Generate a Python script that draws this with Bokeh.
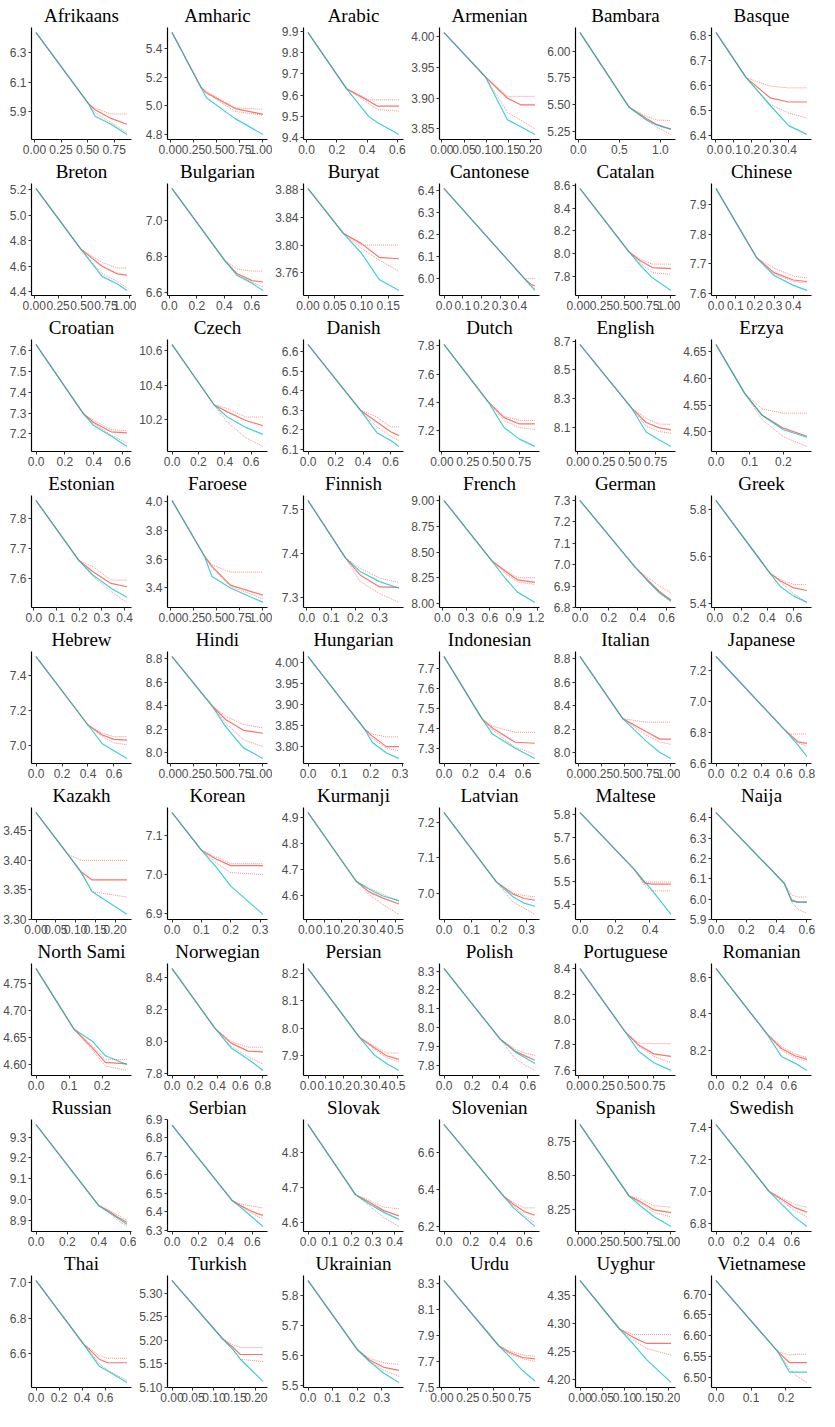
from bokeh.plotting import figure
from bokeh.layouts import gridplot
from bokeh.models import Range1d, FixedTicker, CustomJSTickFormatter
from bokeh.embed import file_html
from bokeh.resources import INLINE

languages = ["Afrikaans", "Amharic", "Arabic", "Armenian", "Bambara", "Basque",
             "Breton", "Bulgarian", "Buryat", "Cantonese", "Catalan", "Chinese",
             "Croatian", "Czech", "Danish", "Dutch", "English", "Erzya",
             "Estonian", "Faroese", "Finnish", "French", "German", "Greek",
             "Hebrew", "Hindi", "Hungarian", "Indonesian", "Italian", "Japanese",
             "Kazakh", "Korean", "Kurmanji", "Latvian", "Maltese", "Naija",
             "North Sami", "Norwegian", "Persian", "Polish", "Portuguese", "Romanian",
             "Russian", "Serbian", "Slovak", "Slovenian", "Spanish", "Swedish",
             "Thai", "Turkish", "Ukrainian", "Urdu", "Uyghur", "Vietnamese"]

x_points = [
    [0.015, 0.51, 0.57, 0.72, 0.87], [0.02, 0.33, 0.39, 0.70, 1.0], [0.01, 0.265, 0.41, 0.47, 0.61],
    [0.005, 0.098, 0.148, 0.179, 0.21], [0.02, 0.62, 0.83, 0.95, 1.13], [0.005, 0.17, 0.30, 0.40, 0.50],
    [0.02, 0.49, 0.71, 0.87, 0.97], [0.02, 0.40, 0.49, 0.60, 0.68], [0.0, 0.066, 0.10, 0.133, 0.17],
    [0.0, 0.43, 0.45, 0.47, 0.486], [0.02, 0.55, 0.67, 0.80, 1.0], [0.0, 0.21, 0.30, 0.40, 0.47],
    [0.0, 0.33, 0.40, 0.52, 0.63], [0.0, 0.32, 0.42, 0.56, 0.69], [0.0, 0.38, 0.50, 0.60, 0.66],
    [0.02, 0.45, 0.60, 0.75, 0.90], [0.02, 0.52, 0.66, 0.78, 0.90], [0.0, 0.085, 0.137, 0.20, 0.27],
    [0.01, 0.20, 0.26, 0.34, 0.41], [0.02, 0.37, 0.45, 0.65, 1.0], [0.005, 0.16, 0.22, 0.30, 0.38],
    [0.02, 0.63, 0.80, 0.95, 1.17], [0.0, 0.38, 0.46, 0.55, 0.63], [0.01, 0.42, 0.50, 0.60, 0.70],
    [0.0, 0.40, 0.51, 0.60, 0.70], [0.02, 0.45, 0.60, 0.79, 1.0], [0.0, 0.18, 0.205, 0.25, 0.29],
    [0.0, 0.29, 0.37, 0.54, 0.69], [0.02, 0.48, 0.73, 0.88, 1.0], [0.0, 0.60, 0.66, 0.72, 0.80],
    [0.0, 0.081, 0.115, 0.142, 0.23], [0.0, 0.10, 0.15, 0.20, 0.31], [0.01, 0.28, 0.35, 0.43, 0.52],
    [0.0, 0.19, 0.25, 0.29, 0.33], [0.0, 0.31, 0.37, 0.41, 0.52], [0.0, 0.45, 0.50, 0.54, 0.60],
    [0.0, 0.115, 0.17, 0.21, 0.275], [0.0, 0.38, 0.52, 0.67, 0.80], [0.0, 0.29, 0.37, 0.44, 0.51],
    [0.0, 0.40, 0.51, 0.58, 0.65], [0.02, 0.47, 0.60, 0.75, 0.92], [0.0, 0.42, 0.54, 0.65, 0.75],
    [0.0, 0.40, 0.46, 0.52, 0.58], [0.0, 0.45, 0.52, 0.60, 0.68], [0.0, 0.22, 0.28, 0.35, 0.42],
    [0.0, 0.45, 0.52, 0.60, 0.68], [0.02, 0.55, 0.67, 0.82, 1.0], [0.0, 0.42, 0.52, 0.62, 0.72],
    [0.0, 0.41, 0.55, 0.62, 0.79], [0.0, 0.12, 0.146, 0.163, 0.217], [0.0, 0.20, 0.25, 0.31, 0.37],
    [0.02, 0.55, 0.65, 0.78, 0.90], [0.0, 0.089, 0.12, 0.15, 0.205], [0.0, 0.176, 0.21, 0.23, 0.26],
]

y_start = [6.44, 5.51, 9.895, 4.007, 6.176, 6.81,
           5.21, 7.18, 3.882, 6.407, 8.57, 7.953,
           7.628, 10.635, 6.635, 7.81, 8.676, 4.663,
           7.858, 4.005, 7.52, 9.0, 7.30, 5.84,
           7.508, 8.82, 4.014, 7.76, 8.82, 7.29,
           3.481, 7.16, 4.92, 7.228, 5.81, 6.425,
           4.778, 8.454, 8.216, 8.313, 8.40, 8.647,
           9.36, 6.87, 4.88, 6.75, 8.87, 7.42,
           7.01, 5.327, 5.85, 8.32, 4.377, 6.733]

y_break = [5.95, 5.13, 9.63, 3.935, 5.474, 6.63,
           4.733, 6.78, 3.817, 6.0, 8.015, 7.72,
           7.295, 10.285, 6.30, 7.40, 8.235, 4.572,
           7.658, 3.62, 7.39, 8.41, 6.99, 5.528,
           7.117, 8.40, 3.842, 7.446, 8.29, 6.82,
           3.41, 7.063, 4.655, 7.032, 5.556, 6.078,
           4.666, 8.08, 7.966, 7.94, 7.90, 8.29,
           8.97, 6.46, 4.68, 6.36, 8.35, 7.0,
           6.657, 5.204, 5.62, 7.82, 4.29, 6.562]

baseline = [
    [5.865, 5.81, 5.74], [5.055, 4.91, 4.80], [9.50, 9.47, 9.415], [3.865, 3.853, 3.841],
    [5.355, 5.31, 5.266], [6.52, 6.44, 6.405], [4.52, 4.46, 4.41], [6.695, 6.65, 6.61],
    [3.788, 3.75, 3.734], [5.981, 5.962, 5.947], [7.90, 7.79, 7.68], [7.66, 7.627, 7.61],
    [7.24, 7.19, 7.14], [10.215, 10.155, 10.115], [6.185, 6.145, 6.115], [7.22, 7.137, 7.085],
    [8.07, 8.018, 7.97], [4.531, 4.504, 4.49], [7.611, 7.567, 7.537], [3.48, 3.40, 3.30],
    [7.36, 7.337, 7.322], [8.24, 8.11, 8.01], [6.93, 6.87, 6.83], [5.47, 5.43, 5.403],
    [7.01, 6.97, 6.926], [8.22, 8.04, 7.95], [3.81, 3.785, 3.772], [7.37, 7.30, 7.249],
    [8.10, 8.0, 7.95], [6.77, 6.72, 6.645], [3.379, 3.347, 3.309], [7.02, 6.97, 6.897],
    [4.625, 4.598, 4.58], [6.99, 6.972, 6.963], [5.50, 5.465, 5.355], [5.99, 5.985, 5.985],
    [4.644, 4.617, 4.601], [7.96, 7.89, 7.82], [7.904, 7.872, 7.847], [7.87, 7.84, 7.81],
    [7.75, 7.66, 7.60], [8.166, 8.13, 8.09], [8.94, 8.91, 8.88], [6.42, 6.37, 6.32],
    [4.655, 4.63, 4.61], [6.30, 6.25, 6.20], [8.28, 8.20, 8.13], [6.92, 6.84, 6.78],
    [6.53, 6.505, 6.44], [5.18, 5.16, 5.113], [5.58, 5.54, 5.51], [7.74, 7.63, 7.55],
    [4.263, 4.235, 4.194], [6.512, 6.512, 6.512],
]

estimate = [
    [5.91, 5.85, 5.81], [5.09, 4.98, 4.94], [9.573, 9.548, 9.548], [3.90, 3.889, 3.889],
    [5.37, 5.315, 5.27], [6.55, 6.534, 6.534], [4.60, 4.54, 4.53], [6.705, 6.665, 6.657],
    [3.802, 3.782, 3.78], [5.985, 5.972, 5.967], [7.94, 7.88, 7.87], [7.67, 7.645, 7.64],
    [7.255, 7.21, 7.205], [10.245, 10.195, 10.165], [6.24, 6.19, 6.17], [7.29, 7.245, 7.245],
    [8.136, 8.10, 8.085], [4.531, 4.507, 4.492], [7.622, 7.583, 7.572], [3.55, 3.42, 3.35],
    [7.352, 7.325, 7.324], [8.31, 8.23, 8.205], [6.935, 6.875, 6.835], [5.495, 5.465, 5.454],
    [7.06, 7.035, 7.03], [8.28, 8.19, 8.165], [3.825, 3.80, 3.80], [7.40, 7.33, 7.325],
    [8.18, 8.115, 8.115], [6.78, 6.74, 6.73], [3.38, 3.367, 3.367], [7.04, 7.023, 7.023],
    [4.615, 4.59, 4.567], [6.998, 6.985, 6.98], [5.495, 5.49, 5.49], [5.995, 5.985, 5.985],
    [4.632, 4.605, 4.602], [7.99, 7.94, 7.935], [7.93, 7.90, 7.887], [7.875, 7.85, 7.827],
    [7.80, 7.73, 7.71], [8.21, 8.17, 8.15], [8.945, 8.915, 8.89], [6.43, 6.40, 6.38],
    [4.66, 4.635, 4.62], [6.32, 6.28, 6.26], [8.31, 8.25, 8.23], [6.95, 6.90, 6.87],
    [6.57, 6.55, 6.55], [5.185, 5.17, 5.17], [5.585, 5.56, 5.55], [7.77, 7.73, 7.72],
    [4.275, 4.264, 4.264], [6.535, 6.535, 6.535],
]

upper = [
    [5.92, 5.88, 5.88], [5.10, 4.985, 4.975], [9.578, 9.578, 9.578], [3.903, 3.903, 3.903],
    [5.39, 5.355, 5.35], [6.597, 6.59, 6.59], [4.63, 4.586, 4.586], [6.73, 6.718, 6.718],
    [3.80, 3.80, 3.80], [6.0, 6.0, 6.0], [7.95, 7.91, 7.91], [7.685, 7.658, 7.652],
    [7.265, 7.22, 7.215], [10.265, 10.215, 10.215], [6.265, 6.215, 6.215], [7.30, 7.27, 7.27],
    [8.165, 8.125, 8.123], [4.543, 4.535, 4.535], [7.639, 7.594, 7.594], [3.56, 3.51, 3.51],
    [7.367, 7.345, 7.335], [8.32, 8.25, 8.25], [6.945, 6.90, 6.868], [5.50, 5.48, 5.479],
    [7.07, 7.05, 7.05], [8.31, 8.24, 8.21], [3.83, 3.823, 3.823], [7.41, 7.38, 7.38],
    [8.26, 8.26, 8.26], [6.79, 6.79, 6.79], [3.40, 3.40, 3.40], [7.045, 7.028, 7.028],
    [4.63, 4.605, 4.577], [7.0, 6.993, 6.99], [5.50, 5.50, 5.50], [6.02, 6.01, 6.01],
    [4.636, 4.61, 4.61], [8.0, 7.965, 7.965], [7.935, 7.91, 7.91], [7.885, 7.865, 7.853],
    [7.815, 7.81, 7.81], [8.22, 8.18, 8.16], [8.95, 8.925, 8.90], [6.44, 6.43, 6.42],
    [4.665, 4.645, 4.64], [6.33, 6.30, 6.30], [8.33, 8.28, 8.27], [6.96, 6.92, 6.90],
    [6.59, 6.575, 6.575], [5.19, 5.185, 5.185], [5.59, 5.575, 5.57], [7.78, 7.75, 7.74],
    [4.28, 4.28, 4.28], [6.553, 6.555, 6.555],
]

lower = [
    [5.89, 5.82, 5.754], [5.09, 4.96, 4.935], [9.56, 9.532, 9.525], [3.877, 3.864, 3.85],
    [5.36, 5.29, 5.22], [6.525, 6.49, 6.47], [4.54, 4.48, 4.43], [6.70, 6.655, 6.63],
    [3.795, 3.778, 3.762], [5.98, 5.965, 5.955], [7.92, 7.835, 7.82], [7.665, 7.64, 7.635],
    [7.25, 7.195, 7.155], [10.185, 10.095, 10.045], [6.215, 6.167, 6.145], [7.27, 7.22, 7.205],
    [8.11, 8.075, 8.06], [4.523, 4.491, 4.473], [7.606, 7.556, 7.52], [3.54, 3.41, 3.325],
    [7.337, 7.31, 7.29], [8.29, 8.21, 8.185], [6.93, 6.865, 6.825], [5.49, 5.44, 5.403],
    [7.05, 7.015, 7.004], [8.25, 8.11, 8.05], [3.82, 3.796, 3.79], [7.39, 7.305, 7.27],
    [8.15, 8.09, 8.07], [6.775, 6.735, 6.71], [3.378, 3.347, 3.338], [7.03, 7.005, 7.0],
    [4.605, 4.565, 4.527], [6.975, 6.958, 6.94], [5.485, 5.46, 5.46], [5.985, 5.95, 5.93],
    [4.628, 4.598, 4.59], [7.97, 7.905, 7.86], [7.925, 7.893, 7.878], [7.834, 7.80, 7.773],
    [7.79, 7.71, 7.66], [8.20, 8.16, 8.14], [8.94, 8.90, 8.87], [6.43, 6.39, 6.36],
    [4.65, 4.615, 4.59], [6.31, 6.26, 6.22], [8.30, 8.23, 8.20], [6.94, 6.88, 6.84],
    [6.545, 6.51, 6.45], [5.18, 5.16, 5.155], [5.58, 5.55, 5.53], [7.76, 7.72, 7.70],
    [4.27, 4.255, 4.243], [6.52, 6.503, 6.487],
]

y_ticks = [
    [5.9, 6.1, 6.3], [4.8, 5.0, 5.2, 5.4], [9.4, 9.5, 9.6, 9.7, 9.8, 9.9], [3.85, 3.90, 3.95, 4.00],
    [5.25, 5.50, 5.75, 6.00], [6.4, 6.5, 6.6, 6.7, 6.8], [4.4, 4.6, 4.8, 5.0, 5.2], [6.6, 6.8, 7.0],
    [3.76, 3.80, 3.84, 3.88], [6.0, 6.1, 6.2, 6.3, 6.4], [7.8, 8.0, 8.2, 8.4, 8.6], [7.6, 7.7, 7.8, 7.9],
    [7.2, 7.3, 7.4, 7.5, 7.6], [10.2, 10.4, 10.6], [6.1, 6.2, 6.3, 6.4, 6.5, 6.6], [7.2, 7.4, 7.6, 7.8],
    [8.1, 8.3, 8.5, 8.7], [4.50, 4.55, 4.60, 4.65], [7.6, 7.7, 7.8], [3.4, 3.6, 3.8, 4.0],
    [7.3, 7.4, 7.5], [8.00, 8.25, 8.50, 8.75, 9.00], [6.8, 6.9, 7.0, 7.1, 7.2, 7.3], [5.4, 5.6, 5.8],
    [7.0, 7.2, 7.4], [8.0, 8.2, 8.4, 8.6, 8.8], [3.80, 3.85, 3.90, 3.95, 4.00], [7.3, 7.4, 7.5, 7.6, 7.7],
    [8.0, 8.2, 8.4, 8.6, 8.8], [6.6, 6.8, 7.0, 7.2], [3.30, 3.35, 3.40, 3.45], [6.9, 7.0, 7.1],
    [4.6, 4.7, 4.8, 4.9], [7.0, 7.1, 7.2], [5.4, 5.5, 5.6, 5.7, 5.8], [5.9, 6.0, 6.1, 6.2, 6.3, 6.4],
    [4.60, 4.65, 4.70, 4.75], [7.8, 8.0, 8.2, 8.4], [7.9, 8.0, 8.1, 8.2], [7.8, 7.9, 8.0, 8.1, 8.2, 8.3],
    [7.6, 7.8, 8.0, 8.2, 8.4], [8.2, 8.4, 8.6], [8.9, 9.0, 9.1, 9.2, 9.3], [6.3, 6.4, 6.5, 6.6, 6.7, 6.8, 6.9],
    [4.6, 4.7, 4.8], [6.2, 6.4, 6.6], [8.25, 8.50, 8.75], [6.8, 7.0, 7.2, 7.4],
    [6.6, 6.8, 7.0], [5.10, 5.15, 5.20, 5.25, 5.30], [5.5, 5.6, 5.7, 5.8], [7.5, 7.7, 7.9, 8.1, 8.3],
    [4.20, 4.25, 4.30, 4.35], [6.50, 6.55, 6.60, 6.65, 6.70],
]

x_ticks = [
    [0, 0.25, 0.5, 0.75], [0, 0.25, 0.5, 0.75, 1.0], [0, 0.2, 0.4, 0.6], [0, 0.05, 0.1, 0.15, 0.2],
    [0, 0.5, 1.0], [0, 0.1, 0.2, 0.3, 0.4], [0, 0.25, 0.5, 0.75, 1.0], [0, 0.2, 0.4, 0.6],
    [0, 0.05, 0.1, 0.15], [0, 0.1, 0.2, 0.3, 0.4], [0, 0.25, 0.5, 0.75, 1.0], [0, 0.1, 0.2, 0.3, 0.4],
    [0, 0.2, 0.4, 0.6], [0, 0.2, 0.4, 0.6], [0, 0.2, 0.4, 0.6], [0, 0.25, 0.5, 0.75],
    [0, 0.25, 0.5, 0.75], [0, 0.1, 0.2], [0, 0.1, 0.2, 0.3, 0.4], [0, 0.25, 0.5, 0.75, 1.0],
    [0, 0.1, 0.2, 0.3], [0, 0.3, 0.6, 0.9, 1.2], [0, 0.2, 0.4, 0.6], [0, 0.2, 0.4, 0.6],
    [0, 0.2, 0.4, 0.6], [0, 0.25, 0.5, 0.75, 1.0], [0, 0.1, 0.2, 0.3], [0, 0.2, 0.4, 0.6],
    [0, 0.25, 0.5, 0.75, 1.0], [0, 0.2, 0.4, 0.6, 0.8], [0, 0.05, 0.1, 0.15, 0.2], [0, 0.1, 0.2, 0.3],
    [0, 0.1, 0.2, 0.3, 0.4, 0.5], [0, 0.1, 0.2, 0.3], [0, 0.2, 0.4], [0, 0.2, 0.4, 0.6],
    [0, 0.1, 0.2], [0, 0.2, 0.4, 0.6, 0.8], [0, 0.1, 0.2, 0.3, 0.4, 0.5], [0, 0.2, 0.4, 0.6],
    [0, 0.25, 0.5, 0.75], [0, 0.2, 0.4, 0.6], [0, 0.2, 0.4, 0.6], [0, 0.2, 0.4, 0.6],
    [0, 0.1, 0.2, 0.3, 0.4], [0, 0.2, 0.4, 0.6], [0, 0.25, 0.5, 0.75, 1.0], [0, 0.2, 0.4, 0.6],
    [0, 0.2, 0.4, 0.6], [0, 0.05, 0.1, 0.15, 0.2], [0, 0.1, 0.2, 0.3], [0, 0.25, 0.5, 0.75],
    [0, 0.05, 0.1, 0.15, 0.2], [0, 0.1, 0.2],
]

CYAN = "#00BFC4"
RED = "#F8766D"


def decimals(ticks):
    d = 1
    for t in ticks:
        for k in range(0, 5):
            if abs(round(t, k) - t) < 1e-9:
                d = max(d, k)
                break
    return d


def make_panel(i):
    xs = x_points[i]
    series = [[y_start[i], y_break[i]] + s[i] for s in (baseline, estimate, upper, lower)]
    ally = [v for s in series for v in s]
    ymin, ymax = min(ally), max(ally)
    ypad = 0.05 * (ymax - ymin)
    y0 = min(ymin - ypad, min(y_ticks[i]) - 1e-6)
    y1 = max(ymax + ypad, max(y_ticks[i]) + 1e-6)
    xpad = 0.05 * (xs[-1] - xs[0])
    p = figure(width=136, height=156, title=languages[i],
               x_range=Range1d(xs[0] - xpad, xs[-1] + xpad),
               y_range=Range1d(y0, y1),
               output_backend="svg", toolbar_location=None,
               min_border_left=4, min_border_right=5, min_border_top=0, min_border_bottom=2)
    p.title.text_font = "Liberation Serif"
    p.title.text_font_size = "19px"
    p.title.text_font_style = "normal"
    p.title.text_color = "black"
    p.title.align = "center"
    p.title.standoff = 4
    p.outline_line_color = None
    p.grid.visible = False
    p.background_fill_color = "white"
    p.border_fill_color = "white"
    p.xaxis.ticker = FixedTicker(ticks=x_ticks[i])
    p.yaxis.ticker = FixedTicker(ticks=y_ticks[i])
    p.xaxis.formatter = CustomJSTickFormatter(code="return tick.toFixed(%d);" % decimals(x_ticks[i]))
    p.yaxis.formatter = CustomJSTickFormatter(code="return tick.toFixed(%d);" % decimals(y_ticks[i]))
    for ax in (p.xaxis, p.yaxis):
        ax.axis_line_color = "black"
        ax.axis_line_width = 1.2
        ax.major_tick_line_color = "#333333"
        ax.major_tick_out = 3
        ax.major_tick_in = 0
        ax.minor_tick_line_color = None
        ax.major_label_text_font = "Liberation Sans"
        ax.major_label_text_font_size = "12px"
        ax.major_label_text_color = "#4D4D4D"
        ax.major_label_standoff = 2
    cy, rd, up, lo = series
    p.line(xs, lo, line_color=RED, line_width=1, line_dash="1 1", line_alpha=0.8)
    p.line(xs, up, line_color=RED, line_width=1, line_dash="1 1", line_alpha=0.8)
    p.line(xs, rd, line_color=RED, line_width=1.2)
    p.line(xs, cy, line_color=CYAN, line_width=1.2, line_alpha=0.75)
    return p


panels = [make_panel(i) for i in range(len(languages))]
grid = gridplot(panels, ncols=6, toolbar_location=None)

open("out.html", "w").write(file_html(grid, INLINE))
